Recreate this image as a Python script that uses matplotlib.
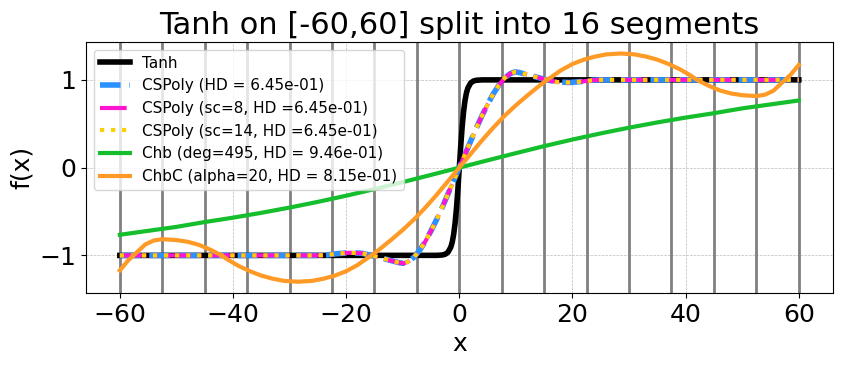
import numpy as np
import matplotlib
matplotlib.use("Agg")
import matplotlib.pyplot as plt

# ---- data ----
seg_edges = [-60, -52.5, -45, -37.5, -30, -22.5, -15, -7.5, 0,
             7.5, 15, 22.5, 30, 37.5, 45, 52.5, 60]

# Tanh (positive half, antisymmetric)
tanh_xp = [0, 0.25, 0.5, 0.75, 1.0, 1.25, 1.5, 2.0, 2.5, 3.0, 4.0, 60]
tanh_yp = [0, 0.2449, 0.4621, 0.6351, 0.7616, 0.8483, 0.9051, 0.9640, 0.9866, 0.9951, 0.9993, 1.0]

# CSPoly (positive half, antisymmetric)
cs_xp = [0, 1, 2, 3, 4, 5, 6, 7, 8, 9, 9.8, 10.5, 12, 13.7, 15.5, 17.3, 19.5, 21.5, 23.5,
         25, 30, 40, 50, 60]
cs_yp = [0, 0.15, 0.30, 0.45, 0.59, 0.72, 0.84, 0.94, 1.02, 1.07, 1.09, 1.085, 1.06, 1.03,
         1.0, 0.975, 0.97, 0.98, 0.995, 1.0, 1.0, 1.0, 1.0, 1.0]

# Chb (deg=495), positive half, antisymmetric
chb_xp = [0, 5, 10, 15, 20, 25, 30, 35, 40, 45, 50, 55, 60]
chb_yp = [0, 0.083, 0.165, 0.245, 0.32, 0.39, 0.455, 0.515, 0.57, 0.62, 0.675, 0.72, 0.765]

# ChbC (alpha=20), positive half, antisymmetric
chbc_xp = [0, 2, 4, 6, 8, 10, 12, 14, 15, 16, 18, 20, 22, 24, 26, 28.5, 31, 33, 35, 37,
           39, 41, 42, 44, 46, 48, 50, 52.5, 54, 55.5, 57, 58.5, 60]
chbc_yp = [0, 0.155, 0.31, 0.455, 0.59, 0.71, 0.82, 0.925, 0.975, 1.02, 1.11, 1.18, 1.23,
           1.265, 1.29, 1.30, 1.29, 1.265, 1.23, 1.18, 1.12, 1.045, 1.0, 0.935, 0.88, 0.845,
           0.825, 0.815, 0.83, 0.875, 0.965, 1.055, 1.17]

labels = ["Tanh", "CSPoly (HD = 6.45e-01)", "CSPoly (sc=8, HD =6.45e-01)",
          "CSPoly (sc=14, HD =6.45e-01)", "Chb (deg=495, HD = 9.46e-01)",
          "ChbC (alpha=20, HD = 8.15e-01)"]


def full(xp, yp):
    xp = np.asarray(xp, float)
    yp = np.asarray(yp, float)
    x = np.concatenate([-xp[::-1], xp[1:]])
    y = np.concatenate([-yp[::-1], yp[1:]])
    return x, y


fig = plt.figure(figsize=(8.42, 3.66), dpi=100)
ax = fig.add_axes([0.102, 0.199, 0.887, 0.686])

for e in seg_edges:
    ax.axvline(e, color="gray", lw=2, zorder=1)

x, y = full(tanh_xp, tanh_yp)
ax.plot(x, y, color="black", lw=4, label=labels[0], zorder=3)
x, y = full(cs_xp, cs_yp)
ax.plot(x, y, color="#2B91FF", lw=4, ls="--", label=labels[1], zorder=3)
ax.plot(x, y, color="#FF14D2", lw=3, ls="-.", label=labels[2], zorder=3)
ax.plot(x, y, color="#FFD000", lw=3, ls=":", label=labels[3], zorder=3)
x, y = full(chb_xp, chb_yp)
ax.plot(x, y, color="#14BE2D", lw=3, label=labels[4], zorder=3)
x, y = full(chbc_xp, chbc_yp)
ax.plot(x, y, color="#FF9A26", lw=3, label=labels[5], zorder=3)

ax.grid(True, ls="--", lw=0.5, color="#BBBBBB")
ax.set_axisbelow(True)
ax.set_title("Tanh on [-60,60] split into 16 segments", fontsize=22)
ax.set_xlabel("x", fontsize=18)
ax.set_ylabel("f(x)", fontsize=18)
ax.tick_params(labelsize=18)
ax.set_xticks([-60, -40, -20, 0, 20, 40, 60])
ax.set_yticks([-1, 0, 1])
ax.legend(loc="upper left", fontsize=11)

fig.savefig("out.png", dpi=100)
